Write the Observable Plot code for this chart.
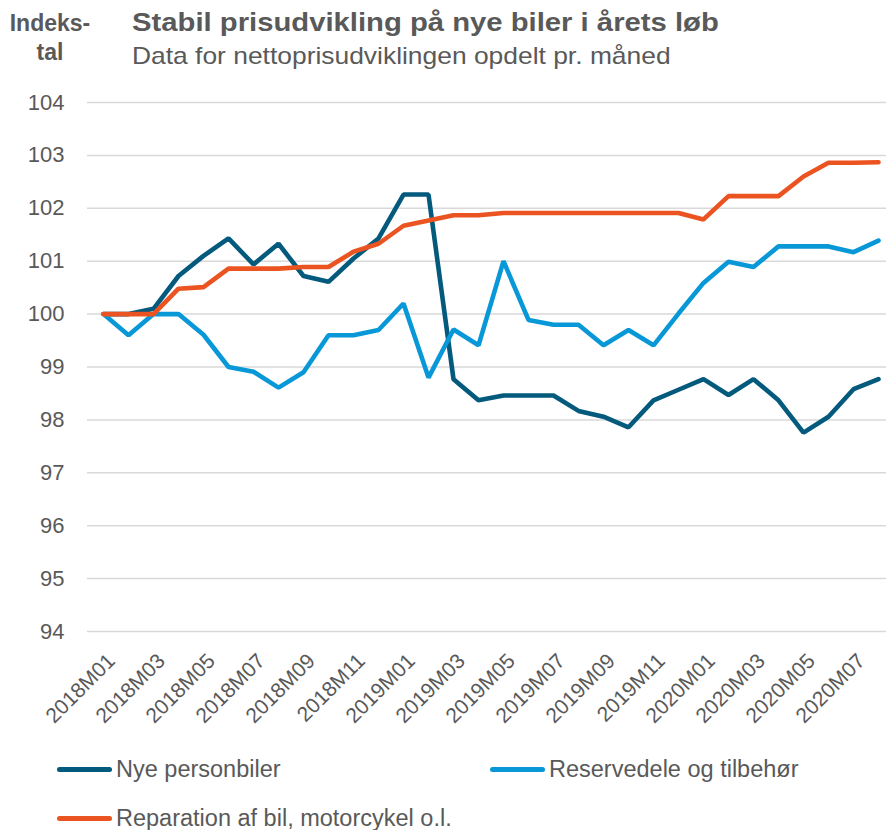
<!DOCTYPE html>
<html>
<head>
<meta charset="utf-8">
<script src="https://cdn.jsdelivr.net/npm/d3@7"></script>
<script src="https://cdn.jsdelivr.net/npm/@observablehq/plot@0.6"></script>
<style>
  body { margin: 0; background: #fff; font-family: "Liberation Sans", Arial, sans-serif; color: #595959; }
  #wrap { position: relative; width: 886px; height: 830px; overflow: hidden; }
  .abs { position: absolute; white-space: nowrap; }
  #unit { left: 8px; top: 9px; width: 84px; font-size: 23px; font-weight: bold; text-align: center; line-height: 29px; }
  #title { left: 132px; top: 9px; font-size: 26px; line-height: 26px; font-weight: bold; transform: scaleX(1.125); transform-origin: 0 0; }
  #subtitle { left: 132px; top: 44px; font-size: 24px; line-height: 24px; transform: scaleX(1.1); transform-origin: 0 0; }
  #chart { left: 0; top: 85px; }
  .leg { font-size: 23.5px; line-height: 28px; display: flex; align-items: center; }
  .leg span.sw { display: inline-block; width: 55px; height: 5px; border-radius: 3px; margin-right: 4px; }
</style>
</head>
<body>
<div id="wrap">
  <div id="unit" class="abs">Indeks-<br>tal</div>
  <div id="title" class="abs">Stabil prisudvikling på nye biler i årets løb</div>
  <div id="subtitle" class="abs">Data for nettoprisudviklingen opdelt pr. måned</div>
  <div id="chart" class="abs"></div>
  <div id="legend"></div>
</div>
<script>
const months = [
  "2018M01","2018M02","2018M03","2018M04","2018M05","2018M06","2018M07","2018M08","2018M09","2018M10","2018M11","2018M12",
  "2019M01","2019M02","2019M03","2019M04","2019M05","2019M06","2019M07","2019M08","2019M09","2019M10","2019M11","2019M12",
  "2020M01","2020M02","2020M03","2020M04","2020M05","2020M06","2020M07","2020M08"
];
const tickLabels = ["2018M01","2018M03","2018M05","2018M07","2018M09","2018M11","2019M01","2019M03","2019M05","2019M07","2019M09","2019M11","2020M01","2020M03","2020M05","2020M07"];
const yTicks = [94, 95, 96, 97, 98, 99, 100, 101, 102, 103, 104];

const seriesNames = ["Nye personbiler", "Reservedele og tilbehør", "Reparation af bil, motorcykel o.l."];
const seriesColors = ["#035A7C", "#0898D8", "#EB5420"];

const nyePersonbiler = [
  100.0, 100.0, 100.1, 100.72, 101.1, 101.43, 100.94, 101.33, 100.72, 100.61, 101.05, 101.43,
  102.26, 102.26, 98.77, 98.37, 98.46, 98.46, 98.46, 98.17, 98.06, 97.86, 98.37, 98.57,
  98.77, 98.47, 98.77, 98.37, 97.76, 98.06, 98.58, 98.77
];
const reservedele = [
  100.0, 99.6, 100.0, 100.0, 99.61, 99.0, 98.91, 98.61, 98.9, 99.6, 99.6, 99.7,
  100.2, 98.8, 99.71, 99.41, 101.0, 99.89, 99.8, 99.8, 99.41, 99.7, 99.41, 100.01,
  100.59, 100.99, 100.89, 101.28, 101.28, 101.28, 101.17, 101.39
];
const reparation = [
  100.0, 100.0, 100.0, 100.48, 100.51, 100.86, 100.86, 100.86, 100.89, 100.89, 101.18, 101.33,
  101.67, 101.77, 101.87, 101.87, 101.91, 101.91, 101.91, 101.91, 101.91, 101.91, 101.91, 101.91,
  101.79, 102.23, 102.23, 102.23, 102.6, 102.86, 102.86, 102.87
];

const allSeries = [nyePersonbiler, reservedele, reparation];
const data = allSeries.flatMap((vals, s) => vals.map((v, i) => ({ month: months[i], value: v, series: seriesNames[s] })));

const plot = Plot.plot({
  width: 886,
  height: 660,
  marginLeft: 87,
  marginRight: 0,
  marginTop: 17,
  marginBottom: 114,
  style: { fontFamily: "Liberation Sans, Arial, sans-serif", color: "#595959", background: "transparent" },
  x: { type: "point", domain: months, padding: 0, insetLeft: 10, insetRight: 3 },
  y: { domain: [94, 104] },
  color: { domain: seriesNames, range: seriesColors },
  marks: [
    Plot.ruleY(yTicks, { stroke: "#d9d9d9", strokeWidth: 1.5 }),
    Plot.axisY({ ticks: yTicks, tickSize: 0, tickPadding: 23, fontSize: 22, label: null, tickFormat: d => String(d), fill: "#595959" }),
    Plot.axisX({ ticks: tickLabels, tickSize: 0, tickRotate: -45, tickPadding: 26, dx: 8, fontSize: 21, label: null, fill: "#595959" }),
    Plot.line(data, { x: "month", y: "value", z: "series", stroke: "series", strokeWidth: 4.6, strokeLinejoin: "miter", strokeLinecap: "round" })
  ]
});
document.getElementById("chart").appendChild(plot);

const legendItems = [
  { name: seriesNames[0], color: seriesColors[0], left: 57, top: 755 },
  { name: seriesNames[1], color: seriesColors[1], left: 490, top: 755 },
  { name: seriesNames[2], color: seriesColors[2], left: 57, top: 804 }
];
const legend = document.getElementById("legend");
for (const it of legendItems) {
  const d = document.createElement("div");
  d.className = "abs leg";
  d.style.left = it.left + "px";
  d.style.top = it.top + "px";
  d.innerHTML = `<span class="sw" style="background:${it.color}"></span><span>${it.name}</span>`;
  legend.appendChild(d);
}
</script>
</body>
</html>
